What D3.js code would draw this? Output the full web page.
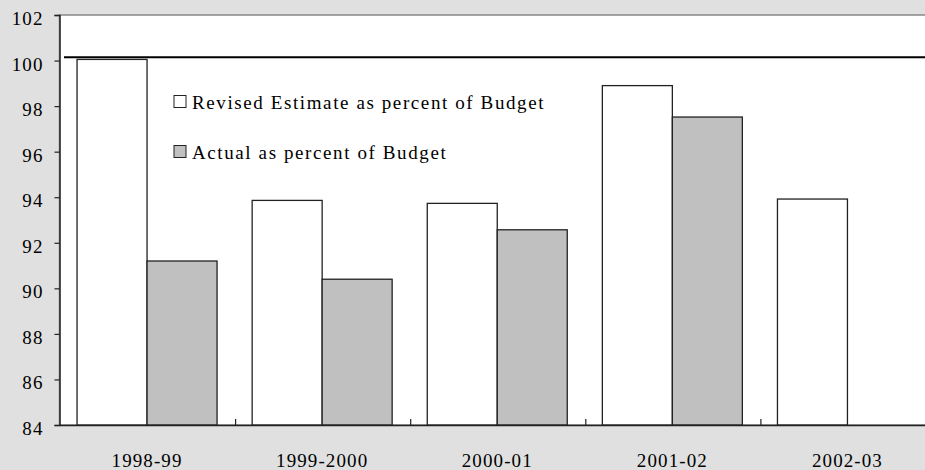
<!DOCTYPE html>
<html>
<head>
<meta charset="utf-8">
<script src="https://cdn.jsdelivr.net/npm/d3@7/dist/d3.min.js"></script>
<style>
  html, body { margin: 0; padding: 0; background: #e0e0e0; }
  svg { display: block; }
</style>
</head>
<body>
<svg id="chart" width="925" height="470"></svg>
<script>
// chart data
const years = ["1998-99", "1999-2000", "2000-01", "2001-02", "2002-03"];
const revisedPct = [100.05, 93.86, 93.73, 98.9, 93.92];
const actualPct = [91.2, 90.4, 92.57, 97.52, null];
const seriesNames = ["Revised Estimate as percent of Budget", "Actual as percent of Budget"];
const seriesFills = ["#ffffff", "#c0c0c0"];
const yTicks = [84, 86, 88, 90, 92, 94, 96, 98, 100, 102];
const refLine = 100.15;

const W = 925, H = 470;
const margin = { top: 15, right: -10, bottom: 45, left: 59.5 };
const fontFam = "Liberation Serif";
const fontSize = 19;

const svg = d3.select("#chart");

svg.append("rect")
  .attr("width", W)
  .attr("height", H)
  .attr("fill", "#e0e0e0");

const x = d3.scaleBand()
  .domain(years)
  .range([margin.left, W - margin.right])
  .paddingInner(0)
  .paddingOuter(0);

const y = d3.scaleLinear()
  .domain([84, 102])
  .range([H - margin.bottom, margin.top]);

const barW = 70;

// plot area
svg.append("rect")
  .attr("x", margin.left)
  .attr("y", margin.top)
  .attr("width", W - margin.left + 20)
  .attr("height", y(84) - margin.top)
  .attr("fill", "#ffffff")
  .attr("stroke", "#888")
  .attr("stroke-width", 1.5);

// bars
const groups = svg.append("g")
  .selectAll("g")
  .data(years)
  .join("g")
  .attr("transform", d => `translate(${x(d) + (x.bandwidth() - 2 * barW) / 2},0)`);

[revisedPct, actualPct].forEach((vals, si) => {
  groups.filter((d, i) => vals[i] != null)
    .append("rect")
    .attr("x", si * barW)
    .attr("y", d => y(vals[years.indexOf(d)]))
    .attr("width", barW)
    .attr("height", d => y(84) - y(vals[years.indexOf(d)]))
    .attr("fill", seriesFills[si])
    .attr("stroke", "#222")
    .attr("stroke-width", 1.3);
});

// 100 reference line
svg.append("line")
  .attr("x1", margin.left + 4.5)
  .attr("x2", W + 5)
  .attr("y1", y(refLine))
  .attr("y2", y(refLine))
  .attr("stroke", "#000")
  .attr("stroke-width", 2);

// y axis
const yAxis = svg.append("g")
  .attr("transform", `translate(${margin.left},0)`)
  .call(d3.axisLeft(y).tickValues(yTicks).tickSize(5).tickPadding(11).tickFormat(d3.format("d")))
  .attr("font-family", fontFam)
  .attr("font-size", fontSize);
yAxis.select(".domain").attr("stroke", "#222").attr("stroke-width", 1.5);
yAxis.selectAll(".tick line").attr("stroke", "#222").attr("stroke-width", 1.2);
yAxis.selectAll("text")
  .attr("fill", "#000")
  .attr("dy", "0.5em")
  .attr("font-family", fontFam)
  .attr("font-size", fontSize)
  .attr("letter-spacing", 1.1);

// x axis
const xAxis = svg.append("g")
  .attr("transform", `translate(0,${y(84)})`)
  .call(d3.axisBottom(x).tickSize(0))
  .attr("font-family", fontFam)
  .attr("font-size", fontSize);
xAxis.select(".domain").attr("stroke", "#222").attr("stroke-width", 1.5);
xAxis.selectAll("text")
  .attr("fill", "#000")
  .attr("dy", null)
  .attr("y", 42)
  .attr("font-family", fontFam)
  .attr("font-size", fontSize)
  .attr("letter-spacing", 1.1);

// category separator ticks
svg.append("g")
  .selectAll("line")
  .data(years.slice(1))
  .join("line")
  .attr("x1", d => x(d) + 1)
  .attr("x2", d => x(d) + 1)
  .attr("y1", y(84))
  .attr("y2", y(84) - 6)
  .attr("stroke", "#222")
  .attr("stroke-width", 1.2);

// legend
const legend = svg.append("g")
  .selectAll("g")
  .data(seriesNames)
  .join("g")
  .attr("transform", (d, i) => `translate(174,${95.5 + i * 50})`);
legend.append("rect")
  .attr("width", 12)
  .attr("height", 12)
  .attr("fill", (d, i) => seriesFills[i])
  .attr("stroke", "#222")
  .attr("stroke-width", 1);
legend.append("text")
  .attr("x", 18)
  .attr("y", 13)
  .text(d => d)
  .attr("fill", "#000")
  .attr("font-family", fontFam)
  .attr("font-size", fontSize)
  .attr("letter-spacing", 1.6);
</script>
</body>
</html>
